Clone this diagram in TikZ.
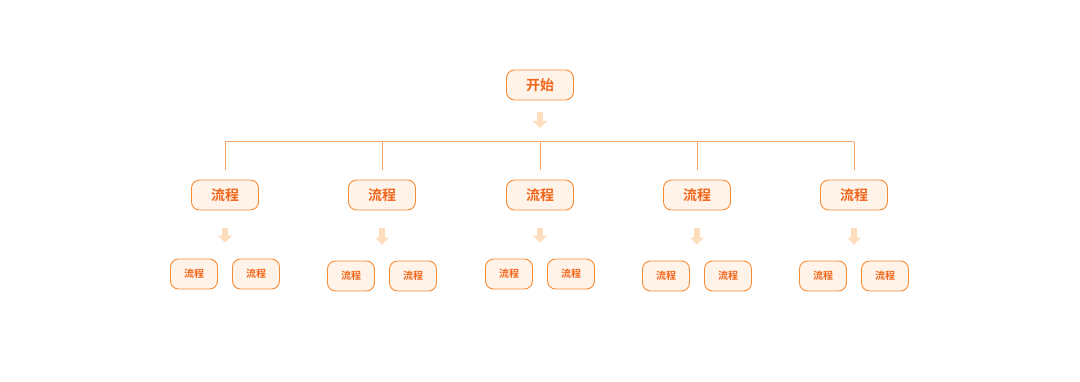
\documentclass[tikz,border=0pt]{standalone}
\usepackage{fontspec}
\usepackage{tikz}
\usetikzlibrary{
  arrows.meta,
  positioning,
  calc
}
\newfontfamily\cjk{Noto Sans CJK SC}[BoldFont={Noto Sans CJK SC Bold}]
\definecolor{flowLine}{HTML}{FA8C35}
\definecolor{flowFill}{HTML}{FFF3EA}
\definecolor{flowText}{HTML}{F2661A}
\definecolor{flowBus}{HTML}{F6A268}
\definecolor{flowArrow}{HTML}{FEDDBD}

\tikzset{
  bigbox/.style={draw=flowLine, line width=0.9pt, fill=flowFill, rounded corners=8pt,
    minimum width=67pt, minimum height=30pt, inner sep=0pt,
    text=flowText, font=\cjk\bfseries\fontsize{14pt}{16pt}\selectfont},
  smallbox/.style={bigbox, minimum width=47pt, font=\cjk\bfseries\fontsize{10pt}{12pt}\selectfont},
  bus/.style={draw=flowBus, line width=1pt},
  downarrow/.style={draw=flowArrow, line width=6pt,
    -{Triangle[width=14pt, length=7pt, fill=flowArrow]}}
}

\begin{document}
\begin{tikzpicture}[x=1pt, y=-1pt]
  \useasboundingbox (0,0) rectangle (1080,382);
  % start node and bus
  \node[bigbox] (start) at (540,85) {开始};
  \coordinate (busmid) at (540,142);
  \draw[downarrow, shorten <=12pt, shorten >=14pt] (start) -- (busmid);
  \coordinate (busL) at (225,142);
  \coordinate (busR) at (854,142);
  \draw[bus] (busL) -- (busR);
  % second and third level
  \foreach \i/\x/\y in {1/225/274, 2/382/276, 3/540/274, 4/697/276, 5/854/276} {
    \coordinate (drop\i) at (\x,142);
    \node[bigbox] (step\i) at (\x,195) {流程};
    \draw[bus, shorten >=10pt] (drop\i) -- (step\i.north);
    \node[smallbox] (sub\i a) at (\x-31,\y) {流程};
    \node[smallbox] (sub\i b) at (\x+31,\y) {流程};
    \coordinate (subtop\i) at ($(sub\i a.north)!0.5!(sub\i b.north)$);
    \draw[downarrow, shorten <=18pt, shorten >=16pt] (step\i.south) -- (subtop\i);
  }
\end{tikzpicture}
\end{document}
